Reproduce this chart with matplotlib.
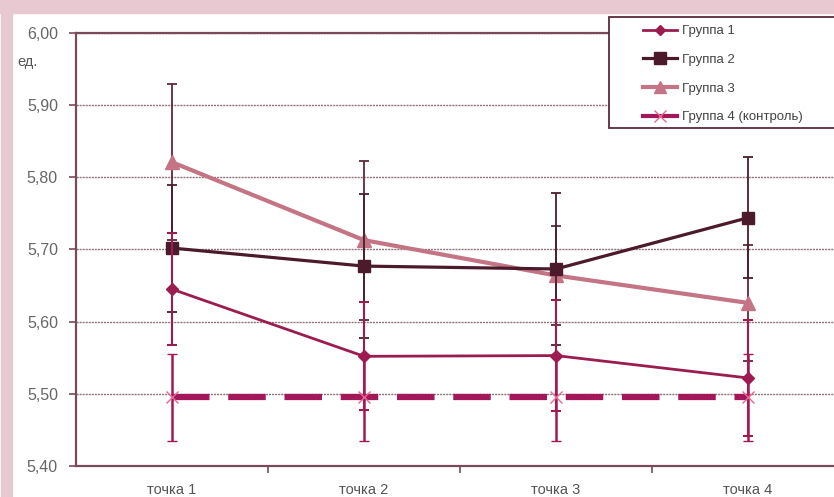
import matplotlib
matplotlib.use("Agg")
import matplotlib.pyplot as plt
from matplotlib.patches import Rectangle
from matplotlib.lines import Line2D

plt.rcParams['font.family'] = ['Liberation Sans Narrow', 'Liberation Sans', 'DejaVu Sans']

categories = ["точка 1", "точка 2", "точка 3", "точка 4"]
group1 = [5.645, 5.552, 5.553, 5.522]
group1_err = [0.078, 0.075, 0.077, 0.080]
group2 = [5.702, 5.677, 5.673, 5.744]
group2_err = [0.088, 0.100, 0.105, 0.084]
group3 = [5.821, 5.713, 5.664, 5.626]
group3_err = [0.108, 0.110, 0.068, 0.080]
group4 = [5.495, 5.495, 5.495, 5.495]
group4_err = [0.060, 0.060, 0.060, 0.060]
labels = ["Группа 1", "Группа 2", "Группа 3", "Группа 4 (контроль)"]
yticks = [5.40, 5.50, 5.60, 5.70, 5.80, 5.90, 6.00]
ytick_labels = ["5,40", "5,50", "5,60", "5,70", "5,80", "5,90", "6,00"]

W, H = 834, 497
fig = plt.figure(figsize=(W / 100, H / 100), dpi=100)
fig.patch.set_facecolor('white')

# pink frame strips
pink = '#e8c9d2'
fig.patches.append(Rectangle((1 / W, 0), 11 / W, 1, transform=fig.transFigure, color=pink, zorder=0))
fig.patches.append(Rectangle((0, 1 - 13 / H), 1, 13 / H, transform=fig.transFigure, color=pink, zorder=0))

ax = fig.add_axes([76 / W, 31 / H, 768 / W, 433 / H])
ax.set_facecolor('none')

x = list(range(1, len(categories) + 1))

c1, c2, c3, c4 = '#9b1d50', '#4b1a2b', '#c47485', '#a3185a'

ax.errorbar(x, group3, yerr=group3_err, color=c3, ecolor='#5e2a3a', lw=3, marker='^', ms=10,
            capsize=3.5, elinewidth=1.3, capthick=1.3, zorder=3)
ax.errorbar(x, group2, yerr=group2_err, color=c2, ecolor='#4a1f2c', lw=2.3, marker='s', ms=9,
            capsize=3.5, elinewidth=1.3, capthick=1.3, zorder=4)
ax.errorbar(x, group1, yerr=group1_err, color=c1, ecolor=c1, lw=2, marker='D', ms=6,
            capsize=3.5, elinewidth=1.5, capthick=1.5, zorder=5)
ax.errorbar(x, group4, yerr=group4_err, color=c4, ecolor=c4, lw=4.5, ls=(0, (6, 3)),
            marker='x', ms=9, mec='#e06a90', mew=1, capsize=3.5, elinewidth=1.8, capthick=1.8, zorder=6)

ax.set_xlim(0.5, 4.5)
ax.set_ylim(5.40, 6.00)
ax.set_yticks(yticks)
ax.set_yticklabels(ytick_labels)
ax.set_xticks([1.5, 2.5, 3.5])
ax.set_xticklabels([])
ax.set_xticks(x, minor=True)
ax.set_xticklabels(categories, minor=True)
ax.tick_params(axis='x', which='major', length=5, color='#7a4a58', width=1.2, direction='out')
ax.tick_params(axis='x', which='minor', length=0, pad=12, labelsize=10.5, labelcolor='#555555')
ax.tick_params(axis='y', length=5, color='#7a4a58', width=1.2, pad=8, labelsize=11.5, labelcolor='#666666')

ax.grid(axis='y', color='#8e737a', lw=1.0, ls=(0, (1.5, 0.7)))
ax.set_axisbelow(True)
for s in ['left', 'bottom', 'top']:
    ax.spines[s].set_color('#7a4a58')
    ax.spines[s].set_linewidth(1.6)
ax.spines['right'].set_visible(False)

fig.text(17 / W, 1 - 62 / H, "ед.", fontsize=10.5, color='#555555', va='center', ha='left')

# legend
fig.patches.append(Rectangle((609 / W, 1 - 128 / H), 240 / W, 111 / H, transform=fig.transFigure,
                             facecolor='white', edgecolor='#5a2a38', lw=1.3, zorder=1))
handles = [
    Line2D([], [], color=c1, lw=2, marker='D', ms=5),
    Line2D([], [], color=c2, lw=2.3, marker='s', ms=8),
    Line2D([], [], color=c3, lw=3, marker='^', ms=8),
    Line2D([], [], color=c4, lw=3, marker='x', ms=8, mec='#e06a90', mew=1),
]
leg = fig.legend(handles, labels, loc='upper left', bbox_to_anchor=(643 / W, 1 - 25 / H),
                 frameon=False, fontsize=9.5, handlelength=2.6, handletextpad=0.35,
                 labelspacing=1.25, borderpad=0, borderaxespad=0)
for t in leg.get_texts():
    t.set_color('#444444')
leg.set_zorder(2)

fig.savefig("out.png", dpi=100)
